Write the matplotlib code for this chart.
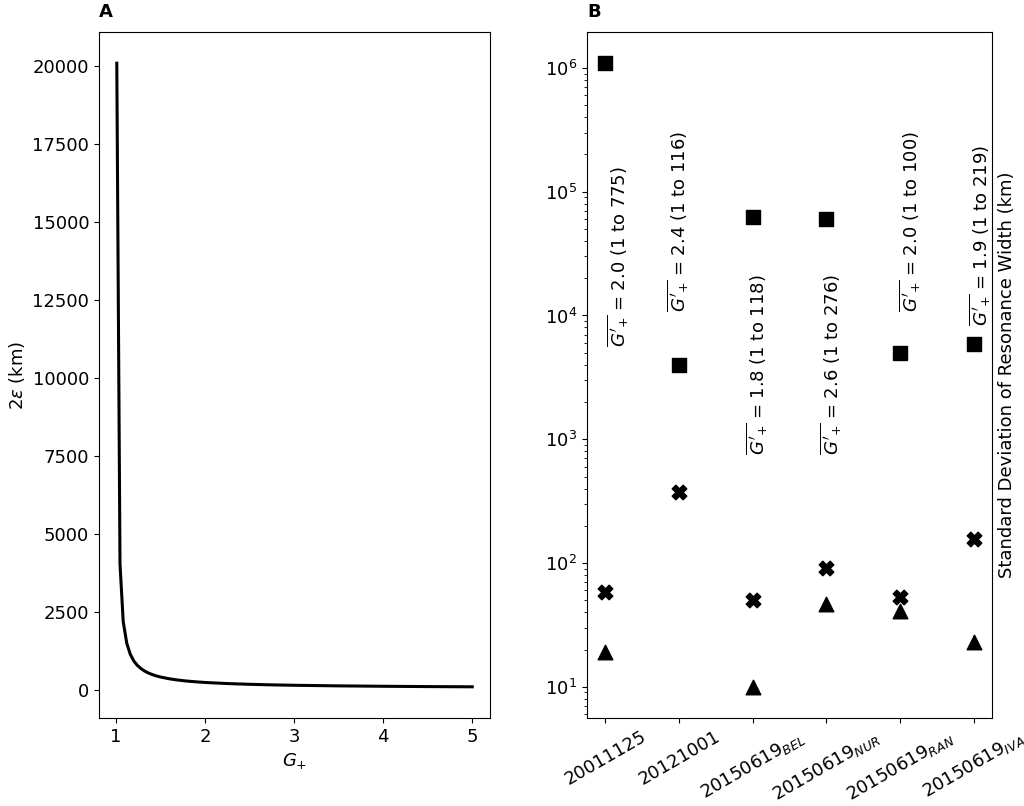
import numpy as np
import matplotlib
matplotlib.use("Agg")
import matplotlib.pyplot as plt

# ---- Panel A data ----
g_plus = [1.008, 1.044, 1.08, 1.12, 1.16, 1.20, 1.24, 1.28, 1.32, 1.36, 1.40, 1.45,
          1.50, 1.60, 1.70, 1.80, 1.90, 2.00, 2.25, 2.50, 2.75, 3.00, 3.50, 4.00,
          4.50, 5.00]
two_eps = [20100, 4050, 2200, 1500, 1145, 930, 790, 690, 612, 553, 505, 457,
           419, 362, 320, 289, 265, 245, 210, 186, 168, 155, 136, 123,
           113, 106]

# ---- Panel B data ----
events = ["20011125", "20121001", "20150619$_{BEL}$", "20150619$_{NUR}$",
          "20150619$_{RAN}$", "20150619$_{IVA}$"]
sd_square = [1.1e6, 4.0e3, 6.3e4, 6.0e4, 5.0e3, 5.9e3]
sd_cross = [58, 375, 50, 91, 53, 156]
sd_triangle = [19, np.nan, 10, 47, 41, 23]
gbar_text = ["2.0 (1 to 775)", "2.4 (1 to 116)", "1.8 (1 to 118)",
             "2.6 (1 to 276)", "2.0 (1 to 100)", "1.9 (1 to 219)"]
text_x = [0.16, 0.98, 2.06, 3.06, 4.13, 5.08]
text_y = [2.96e4, 5.7e4, 4.0e3, 4.0e3, 5.7e4, 4.4e4]

FS = 13
plt.rcParams['font.size'] = FS
plt.rcParams['font.family'] = ['DejaVu Sans']

fig = plt.figure(figsize=(10.24, 8.06), dpi=100)
axA = fig.add_axes([0.0967, 0.1092, 0.3818, 0.8511])
axB = fig.add_axes([0.5732, 0.1092, 0.3955, 0.8511])

# Panel A
axA.plot(g_plus, two_eps, color='black', linewidth=2.2)
axA.set_xlabel("$G_{+}$", fontsize=FS)
axA.set_ylabel(r"2$\varepsilon$ (km)", fontsize=FS)
axA.set_xticks([1, 2, 3, 4, 5])
axA.set_yticks([0, 2500, 5000, 7500, 10000, 12500, 15000, 17500, 20000])
axA.set_title("A", loc='left', fontweight='bold', fontsize=13, pad=11)

# Panel B
x = np.arange(len(events))
axB.scatter(x, sd_square, marker='s', s=110, color='black')
axB.scatter(x, sd_cross, marker='X', s=110, color='black')
axB.scatter(x, sd_triangle, marker='^', s=110, color='black')
axB.set_yscale('log')
axB.set_ylim(5.6, 1.95e6)
axB.set_xlim(-0.25, 5.25)
axB.set_xticks(x)
axB.set_xticklabels(events, rotation=30, ha='center', fontsize=FS)
for xi, yi, t in zip(text_x, text_y, gbar_text):
    axB.text(xi, yi, r"$\overline{G'_{+}}$ = " + t, rotation=90,
             ha='center', va='center', fontsize=FS)
axB.yaxis.set_label_position('right')
axB.set_ylabel("Standard Deviation of Resonance Width (km)", fontsize=FS)
axB.set_title("B", loc='left', fontweight='bold', fontsize=13, pad=11)

fig.savefig("out.png", dpi=100)
